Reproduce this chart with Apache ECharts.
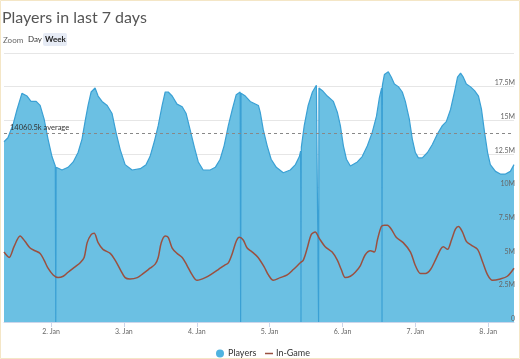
<!DOCTYPE html>
<html><head><meta charset="utf-8">
<script src="https://cdn.jsdelivr.net/npm/echarts@6/dist/echarts.min.js"></script>
<style>html,body{margin:0;padding:0;background:#fff}#c{width:520px;height:359px}</style>
</head><body><div id="c"></div>
<script>
// hours since 1 Jan 00:00
const playersHours = [8.5,9.8,11.5,12.8,14.4,16.1,17.4,19.1,20.4,21.7,23.0,24.3,25.4,25.55,25.7,27.6,29.6,31.3,32.9,34.2,35.2,36.2,37.2,38.5,39.5,40.8,42.5,44.1,45.4,46.8,48.4,50.7,53.4,55.3,56.6,58.0,59.3,60.6,61.6,62.6,63.9,65.5,67.2,68.5,69.8,71.2,72.5,74.1,76.4,78.1,79.7,81.0,82.4,83.7,85.0,86.3,86.45,86.6,88.0,89.6,92.3,92.9,93.9,95.2,96.5,98.2,100.5,102.8,104.5,105.8,106.2,106.33,106.45,107.4,108.7,110.1,111.4,112.0,112.13,112.25,113.4,115.0,117.0,118.3,119.3,120.3,121.3,122.6,124.9,126.5,128.2,129.8,131.2,132.1,132.9,133.03,133.15,133.8,135.1,136.1,137.1,138.4,139.7,140.7,142.0,143.0,144.0,145.0,146.3,148.0,149.6,151.3,152.9,154.2,155.6,156.9,157.9,158.9,159.8,160.8,162.1,163.5,164.8,165.8,166.8,167.8,168.7,170.4,172.0,173.7,175.3,176.5];
const playersValues = [13.4,13.7,14.7,15.8,17.0,16.8,16.4,16.4,16.1,15.1,13.6,12.3,11.6,0,11.5,11.3,11.5,11.9,12.6,13.6,14.9,16.1,17.1,17.4,16.8,16.4,16.1,15.5,14.1,12.8,11.7,11.3,11.4,11.7,12.3,13.4,14.6,16.1,17.1,17.1,16.8,16.2,16.0,15.5,14.3,13.0,11.9,11.3,11.3,11.5,12.1,13.1,14.6,15.8,16.9,17.1,0,17.0,16.8,16.4,16.1,15.6,14.3,13.1,12.1,11.5,11.1,11.3,11.7,12.3,12.7,0,13.0,14.6,16.1,17.1,17.6,17.5,0,17.4,17.2,16.8,16.4,15.6,14.6,13.1,12.1,11.6,11.9,12.3,13.1,14.1,15.3,16.6,17.4,0,17.6,18.4,18.6,18.2,17.7,17.5,17.1,16.4,15.1,13.6,12.6,12.2,12.2,12.6,13.2,14.0,14.6,14.9,15.8,17.1,18.2,18.5,18.2,17.7,17.5,17.2,16.8,15.8,14.1,12.6,11.7,11.2,11.0,11.0,11.2,11.7];
const ingameHours = [8.5,10.2,11.8,13.8,15.4,17.1,18.7,20.4,21.7,23.0,24.7,26.3,28.0,29.6,31.9,33.6,34.9,35.9,37.2,38.2,39.5,41.1,43.5,45.1,46.8,48.4,50.0,52.4,54.3,56.6,58.3,59.3,60.3,61.6,62.6,63.9,65.5,67.2,68.8,70.5,72.1,74.8,77.1,79.1,81.0,82.4,83.7,85.0,86.0,87.3,88.6,90.3,92.2,94.2,95.6,97.2,99.5,101.8,103.8,106.1,107.1,108.4,109.7,111.0,112.4,114.3,116.6,118.3,119.6,120.9,122.6,124.2,125.9,127.5,129.2,130.5,131.5,132.8,133.8,134.8,136.1,137.7,140.0,142.4,144.0,145.7,147.3,149.0,150.6,152.3,153.2,154.6,155.9,157.2,158.2,159.5,160.8,162.5,164.5,166.1,167.8,169.4,172.0,174.3,176.5];
const ingameValues = [5.2,4.8,5.6,6.4,6.0,5.5,5.3,5.1,4.6,4.0,3.5,3.3,3.4,3.7,4.1,4.4,4.8,5.9,6.5,6.6,5.9,5.4,5.1,4.6,3.9,3.3,3.2,3.3,3.6,4.0,4.3,4.8,5.9,6.4,6.3,5.5,5.1,4.8,4.2,3.5,3.1,3.3,3.6,3.9,4.2,4.4,5.1,6.0,6.3,6.1,5.5,5.2,4.8,4.1,3.5,3.1,3.3,3.5,3.9,4.4,4.6,5.5,6.5,6.7,6.2,5.6,5.2,4.6,3.9,3.3,3.4,3.7,4.2,5.0,5.3,5.2,6.1,7.1,7.2,7.2,6.9,6.3,5.9,5.2,4.2,3.6,3.6,3.9,4.6,5.4,5.6,5.4,6.1,6.9,7.1,6.7,6.0,5.7,5.4,4.5,3.5,3.1,3.2,3.4,4.0];
const averageValue = 14.0605;
const averageLabel = '14060.5k average';
const tickHours = [24,48,72,96,120,144,168];
const tickLabels = ['2. Jan','3. Jan','4. Jan','5. Jan','6. Jan','7. Jan','8. Jan'];
const yTicks = ['0','2.5M','5M','7.5M','10M','12.5M','15M','17.5M','20M'];

const FONT = 'Lato, "Open Sans", sans-serif';
const chart = echarts.init(document.getElementById('c'), null, {renderer:'canvas'});
chart.setOption({
  animation:false,
  backgroundColor:'#fff',
  textStyle:{fontFamily:FONT},
  title:{text:'Players in last 7 days',left:-3,top:5,textStyle:{fontFamily:FONT,fontSize:16,fontWeight:'normal',color:'#555'}},
  graphic:[
    {type:'rect',shape:{x:0.5,y:0.5,width:519,height:358},style:{fill:'none',stroke:'#f4e6c6',lineWidth:1},z:100},
    {type:'text',left:3,top:36,style:{text:'Zoom',fontFamily:FONT,fontSize:8,fill:'#666'}},
    {type:'text',left:28,top:35,style:{text:'Day',fontFamily:FONT,fontSize:8,fill:'#333'}},
    {type:'rect',shape:{x:43,y:33,width:24,height:13,r:2},style:{fill:'#e6ebf5'}},
    {type:'text',left:45,top:35,style:{text:'Week',fontFamily:FONT,fontSize:8,fontWeight:'bold',fill:'#222'}}
  ],
  legend:[
    {left:211,top:344,itemWidth:8,itemHeight:8,
      textStyle:{fontFamily:FONT,fontSize:9,color:'#333',padding:[0,0,0,-1]},
      data:[{name:'Players',icon:'circle'}]},
    {left:260,top:344,itemWidth:8,itemHeight:1.5,
      textStyle:{fontFamily:FONT,fontSize:9,color:'#333',padding:[0,0,0,-2]},
      data:[{name:'In-Game',icon:'rect'}]}
  ],
  grid:{left:4,right:6,top:53,bottom:37,containLabel:false},
  xAxis:{type:'value',min:8.5,max:176.5,
    axisLine:{show:true,lineStyle:{color:'#ccd6eb'}},
    axisTick:{show:true,customValues:tickHours,length:5,lineStyle:{color:'#ccd6eb'}},
    axisLabel:{customValues:tickHours,fontFamily:FONT,fontSize:7,color:'#666',margin:6,
      formatter:function(v){return tickLabels[tickHours.indexOf(Math.round(v))]||'';}},
    splitLine:{show:false}},
  yAxis:[
    {type:'value',position:'right',min:0,max:20,interval:2.5,
      axisLine:{show:false},axisTick:{show:false},axisLabel:{show:false},
      splitLine:{lineStyle:{color:'#e6e6e6',width:1}}},
    {type:'value',position:'right',min:0,max:20,interval:2.5,z:10,
      axisLine:{show:false},axisTick:{show:false},splitLine:{show:false},
      axisLabel:{inside:true,margin:-1,fontFamily:FONT,fontSize:7,color:'#666',verticalAlign:'bottom',showMaxLabel:false,
        formatter:function(v){return v>=20?'':yTicks[Math.round(v/2.5)];}}}
  ],
  series:[
    {name:'Players',type:'line',symbol:'none',showSymbol:false,yAxisIndex:0,
      color:'#4fb3e0',
      lineStyle:{color:'#3aa0d4',width:1.2},
      areaStyle:{color:'#6bc0e3',opacity:1},
      data:playersHours.map((h,i)=>[h,playersValues[i]]),
      markLine:{silent:true,symbol:'none',z:10,
        lineStyle:{color:'#888',type:[3,3],width:1},
        label:{show:true,position:'insideStartTop',formatter:averageLabel,fontFamily:FONT,fontSize:7.5,color:'#333',distance:[6,1]},
        data:[{yAxis:averageValue}]}},
    {name:'In-Game',type:'line',symbol:'none',showSymbol:false,smooth:0.3,yAxisIndex:0,
      color:'#9a5040',
      lineStyle:{color:'#9a5040',width:1.5},
      data:ingameHours.map((h,i)=>[h,ingameValues[i]])}
  ]
});
</script></body></html>
